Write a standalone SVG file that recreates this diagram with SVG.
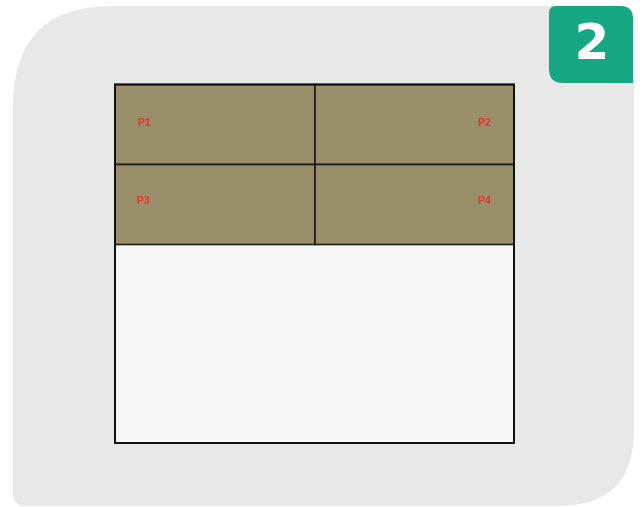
<svg xmlns="http://www.w3.org/2000/svg" width="642" height="507" viewBox="0 0 642 507">
<style>
.cell{fill:#9a8f6b;stroke:#1a1a1a;stroke-width:1.6}
.lbl{font-family:"Liberation Sans",Arial,sans-serif;font-size:10.5px;font-weight:bold;fill:#e0392b}
</style>
<rect width="642" height="507" fill="#ffffff"/>
<path d="M113 6 H622 Q634 6 634 18 V430 Q634 506 558 506 H25 Q13 506 13 494 V106 Q13 6 113 6 Z" fill="#e8e8e8"/>
<g id="badge">
<path d="M556 6 H620 Q633 6 633 19 V83 H563 Q549 83 549 69 V13 Q549 6 556 6 Z" fill="#15a882"/>
<text x="592" y="59" text-anchor="middle" font-family="'DejaVu Sans',sans-serif" font-weight="bold" font-size="50" fill="#ffffff">2</text>
</g>
<g id="lower">
<rect x="115" y="244" width="399" height="199" fill="#f7f7f7" stroke="#111111" stroke-width="2"/>
</g>
<g id="P1"><rect class="cell" x="115" y="84.5" width="200" height="80"/><text class="lbl" x="138" y="126">P1</text></g>
<g id="P2"><rect class="cell" x="315" y="84.5" width="199" height="80"/><text class="lbl" x="491" y="126" text-anchor="end">P2</text></g>
<g id="P3"><rect class="cell" x="115" y="164.5" width="200" height="80"/><text class="lbl" x="137" y="204">P3</text></g>
<g id="P4"><rect class="cell" x="315" y="164.5" width="199" height="80"/><text class="lbl" x="491" y="204" text-anchor="end">P4</text></g>
<rect x="115" y="84.5" width="399" height="358.5" fill="none" stroke="#111111" stroke-width="2"/>
<g id="connectors"/>
</svg>
